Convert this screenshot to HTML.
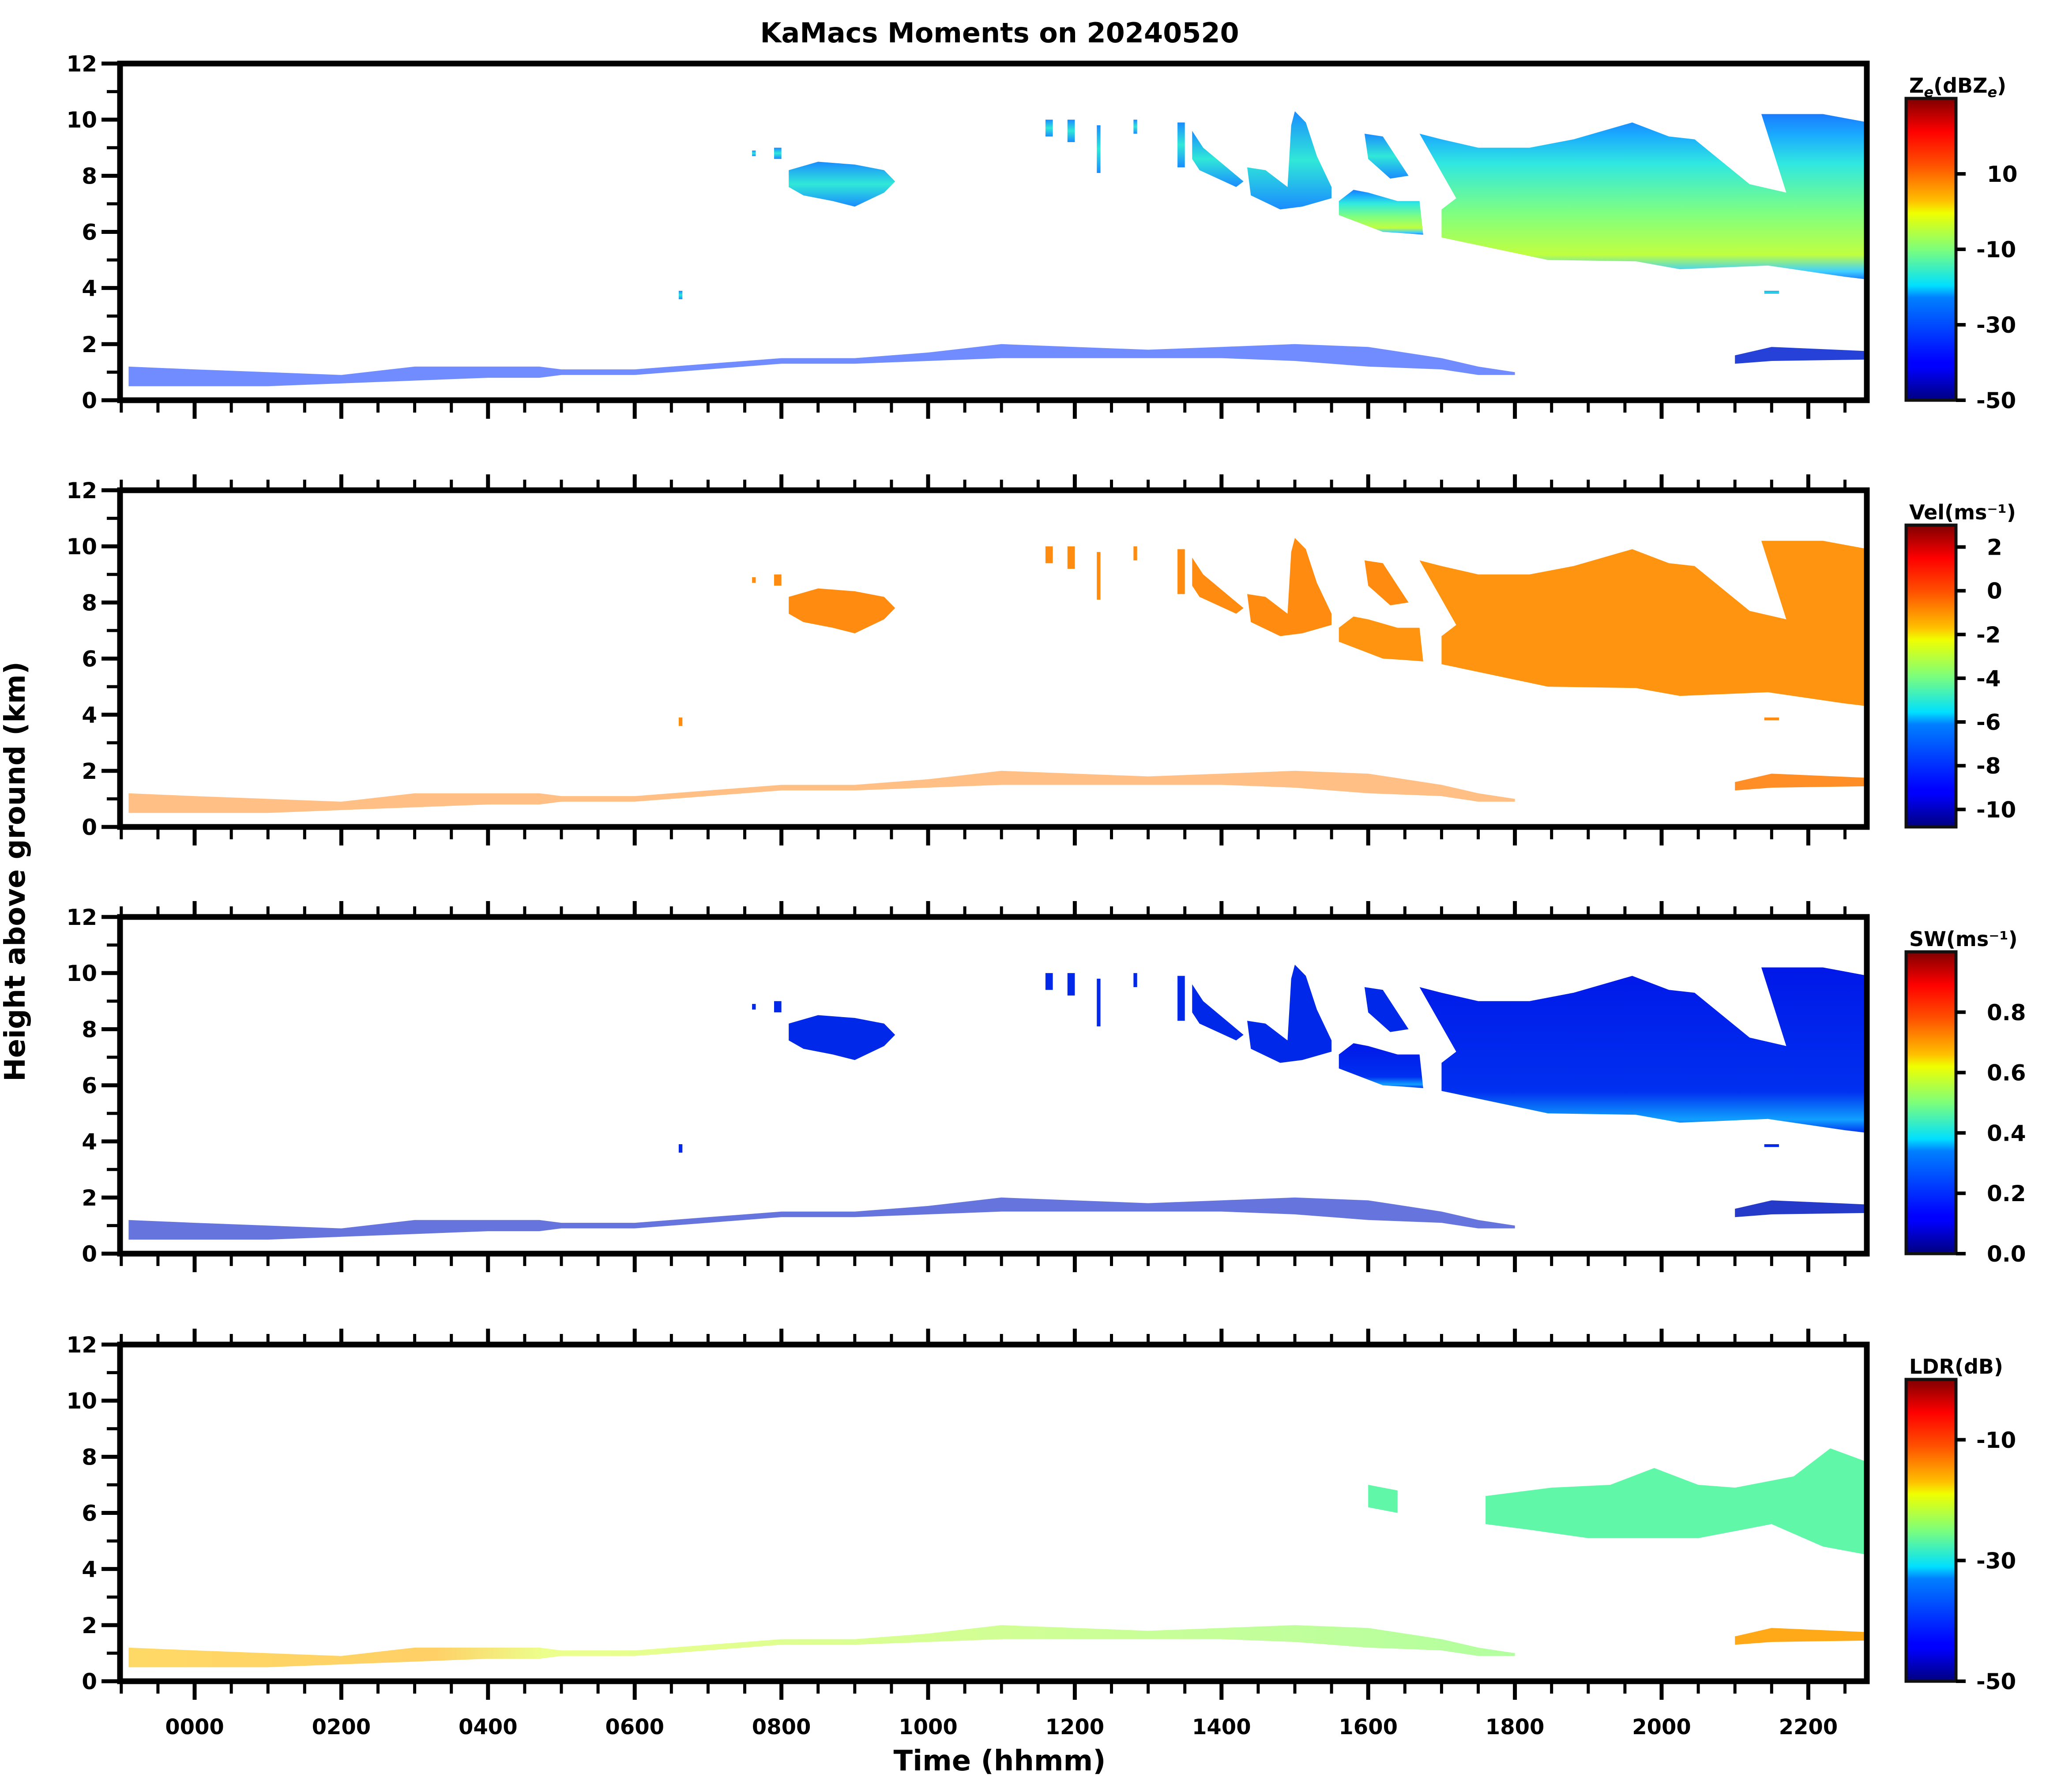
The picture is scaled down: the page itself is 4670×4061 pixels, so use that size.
<!DOCTYPE html>
<html><head><meta charset="utf-8"><style>
html,body{margin:0;padding:0;background:#fff}
svg text{font-family:"DejaVu Sans","Liberation Sans",sans-serif;font-weight:bold}
</style></head><body>
<svg id="fig" xmlns="http://www.w3.org/2000/svg" width="4670" height="4056" viewBox="0 0 4670 4056">
<defs>
<linearGradient id="jet" x1="0" y1="1" x2="0" y2="0">
<stop offset="0" stop-color="#00007f"/><stop offset="0.11" stop-color="#0000ff"/><stop offset="0.125" stop-color="#0000ff"/>
<stop offset="0.34" stop-color="#0080ff"/><stop offset="0.38" stop-color="#00e0ff"/><stop offset="0.5" stop-color="#7dff7a"/>
<stop offset="0.62" stop-color="#f0ff00"/><stop offset="0.66" stop-color="#ffc000"/><stop offset="0.78" stop-color="#ff5000"/>
<stop offset="0.89" stop-color="#ff0000"/><stop offset="1" stop-color="#7f0000"/></linearGradient>
<linearGradient id="zeMain" x1="0" y1="0" x2="0" y2="1">
<stop offset="0" stop-color="#1a7cff"/><stop offset="0.12" stop-color="#1aa8ff"/><stop offset="0.3" stop-color="#30e8e0"/><stop offset="0.6" stop-color="#80ff80"/>
<stop offset="0.85" stop-color="#c0ff40"/><stop offset="0.95" stop-color="#40d0ff"/><stop offset="1" stop-color="#1a7cff"/></linearGradient>
<linearGradient id="zeSmall" x1="0" y1="0" x2="0" y2="1">
<stop offset="0" stop-color="#1a8cff"/><stop offset="0.5" stop-color="#30e8d8"/><stop offset="1" stop-color="#1a8cff"/></linearGradient>
<linearGradient id="swMain" x1="0" y1="0" x2="0" y2="1">
<stop offset="0" stop-color="#0018e8"/><stop offset="0.75" stop-color="#0030f0"/><stop offset="0.92" stop-color="#10a0ff"/><stop offset="1" stop-color="#0030f0"/></linearGradient>
<linearGradient id="ldrLow" x1="0" y1="0" x2="1" y2="0">
<stop offset="0" stop-color="#ffc000"/><stop offset="0.22" stop-color="#ffb000"/><stop offset="0.3" stop-color="#e0ff40"/><stop offset="1" stop-color="#80ff60"/></linearGradient>
</defs>
<g id="root"></g>
</svg>
<script>
// ---- data ----
const hourTicks = [0,2,4,6,8,10,12,14,16,18,20,22];
const hourLabels = ["0000","0200","0400","0600","0800","1000","1200","1400","1600","1800","2000","2200"];
const heightTicks = [0,2,4,6,8,10,12];
const cloudA = [[8.1,8.2],[8.5,8.5],[9.0,8.4],[9.4,8.2],[9.55,7.8],[9.4,7.4],[9.0,6.9],[8.7,7.1],[8.3,7.3],[8.1,7.6]];
const cloudS = [[13.6,9.6],[13.75,9.0],[14.3,7.8],[14.2,7.6],[13.7,8.2],[13.6,8.6]];
const cloudB = [[14.35,8.3],[14.6,8.2],[14.9,7.6],[14.95,9.8],[15.0,10.3],[15.15,9.9],[15.3,8.7],[15.5,7.6],[15.5,7.2],[15.1,6.9],[14.8,6.8],[14.4,7.3]];
const cloudC = [[15.6,7.1],[15.8,7.5],[16.0,7.4],[16.4,7.1],[16.7,7.1],[16.75,5.9],[16.5,5.95],[16.2,6.0],[15.9,6.3],[15.6,6.6]];
const cloudE = [[15.95,9.5],[16.2,9.4],[16.55,8.0],[16.3,7.9],[16.0,8.6]];
const cloudD = [[16.7,9.5],[17.0,9.3],[17.5,9.0],[18.2,9.0],[18.8,9.3],[19.6,9.9],[20.1,9.4],[20.45,9.3],[21.2,7.7],[21.7,7.4],[21.36,10.2],[22.2,10.2],[22.82,9.9],[22.82,4.3],[22.5,4.4],[21.45,4.8],[20.25,4.67],[19.65,4.95],[18.45,5.0],[17.0,5.8],[17.0,6.8],[17.2,7.2]];
const bitsT0 = [7.6,7.9,11.6,11.9,12.3,12.8,13.4,6.6,21.4];
const bitsT1 = [7.65,8.0,11.7,12.0,12.35,12.85,13.5,6.65,21.6];
const bitsHb = [8.7,8.6,9.4,9.2,8.1,9.5,8.3,3.6,3.8];
const bitsHt = [8.9,9.0,10.0,10.0,9.8,10.0,9.9,3.9,3.9];
const lowT = [-0.9,0,1,2,3,4,4.7,5,6,7,8,9,10,11,12,13,14,15,16,17,17.5,18];
const lowTop = [1.2,1.1,1.0,0.9,1.2,1.2,1.2,1.1,1.1,1.3,1.5,1.5,1.7,2.0,1.9,1.8,1.9,2.0,1.9,1.5,1.2,1.0];
const lowBot = [0.5,0.5,0.5,0.6,0.7,0.8,0.8,0.9,0.9,1.1,1.3,1.3,1.4,1.5,1.5,1.5,1.5,1.4,1.2,1.1,0.9,0.9];
const low2T = [21.0,21.5,22.9];
const low2Top = [1.6,1.9,1.75];
const low2Bot = [1.3,1.4,1.45];
const ldrA = [[16.0,7.0],[16.4,6.8],[16.4,6.0],[16.0,6.2]];
const ldrB = [[17.6,6.6],[18.5,6.9],[19.3,7.0],[19.9,7.6],[20.5,7.0],[21.0,6.9],[21.8,7.3],[22.3,8.3],[22.9,7.8],[22.9,4.5],[22.2,4.8],[21.5,5.6],[20.5,5.1],[19.8,5.1],[19.0,5.1],[18.2,5.4],[17.6,5.6]];
const cbTitles = ["Ze","Vel(ms\u207b\u00b9)","SW(ms\u207b\u00b9)","LDR(dB)"];
const cbMin = [-50,-10.8,0,-50];
const cbMax = [30,3,1.0,0];
const cbTicks = [[10,-10,-30,-50],[2,0,-2,-4,-6,-8,-10],[0.8,0.6,0.4,0.2,0.0],[-10,-30,-50]];
const cbLabels = [["10","-10","-30","-50"],["2","0","-2","-4","-6","-8","-10"],["0.8","0.6","0.4","0.2","0.0"],["-10","-30","-50"]];

// ---- layout ----
const NS="http://www.w3.org/2000/svg";
const root=document.getElementById('root');
const panelTop=[144,1111,2078,3047], PH=763, XL=272, XR=4230;
const T0=-1.02, T1=22.82;
const X=t=>441+166.2*Math.min(t,T1);
const Yp=(h,p)=>panelTop[p]+PH*(1-h/12);
function mk(tag,attrs,parent){const e=document.createElementNS(NS,tag);for(const k in attrs)e.setAttribute(k,attrs[k]);(parent||root).appendChild(e);return e;}
function polyPts(arr,p){return arr.map(d=>X(d[0]).toFixed(1)+','+Yp(d[1],p).toFixed(1)).join(' ');}
function bandPts(ts,tops,bots,p){const a=ts.map((t,i)=>[t,tops[i]]);const b=ts.map((t,i)=>[t,bots[i]]).reverse();return polyPts(a.concat(b),p);}

const title=mk('text',{x:2265,y:96,'font-size':62,'text-anchor':'middle'});


title.textContent='KaMacs Moments on 20240520';

const cloudFills=[
 {main:'url(#zeMain)',small:'url(#zeSmall)',low:'#1040ff',low2:'#0020d0',lowOp:0.6},
 {main:'#ff9410',small:'#ff8c10',low:'#ff8a20',low2:'#ff7a00',lowOp:0.55},
 {main:'url(#swMain)',small:'#0028e8',low:'#0018c8',low2:'#0018c0',lowOp:0.6},
 null];

for(let p=0;p<4;p++){
  const g=mk('g',{});
  
  
  const cf=cloudFills[p];
  if(cf){
    const lb=mk('polygon',{points:bandPts(lowT,lowTop,lowBot,p),fill:cf.low,opacity:cf.lowOp},g);
    
    
    const lb2=mk('polygon',{points:bandPts(low2T,low2Top,low2Bot,p),fill:cf.low2,opacity:0.85},g);
    
    
    [[cloudA,'cloud-a',cf.small],[cloudS,'cloud-streak',cf.small],[cloudB,'cloud-b',cf.small],[cloudC,'cloud-c',cf.main],[cloudE,'cloud-e',cf.small],[cloudD,'cloud-main',cf.main]].forEach(c=>{
      const e=mk('polygon',{points:polyPts(c[0],p),fill:c[2]},g);
      
      
    });
    for(let i=0;i<bitsT0.length;i++){
      const r=mk('rect',{x:X(bitsT0[i]),y:Yp(bitsHt[i],p),width:X(bitsT1[i])-X(bitsT0[i]),height:Yp(bitsHb[i],p)-Yp(bitsHt[i],p),fill:cf.small},g);
      
      
    }
  } else {
    const lb=mk('polygon',{points:bandPts(lowT,lowTop,lowBot,p),fill:'url(#ldrLow)',opacity:0.6},g);
    
    
    const lb2=mk('polygon',{points:bandPts(low2T,low2Top,low2Bot,p),fill:'#ffa000',opacity:0.9},g);
    
    
    [[ldrA,'ldr-cloud-a'],[ldrB,'ldr-cloud-main']].forEach(c=>{
      const e=mk('polygon',{points:polyPts(c[0],p),fill:'#60f8a8'},g);
      
      
    });
  }
  const top=panelTop[p], bot=top+PH;
  for(let h=0;h<=12;h++){
    const major=h%2===0;
    const l=mk('line',{x1:XL-(major?42:30),x2:XL,y1:Yp(h,p),y2:Yp(h,p),stroke:'#000','stroke-width':major?9:7},g);
    
    
  }
  heightTicks.forEach(h=>{
    const t=mk('text',{x:XL-52,y:Yp(h,p)+18,'font-size':50,'text-anchor':'end'},g);
    
    
    t.textContent=String(h);
  });
  for(let k=-2;k<=45;k++){
    const t=k/2; if(t<T0-0.01||t>T1) continue;
    const major=(k%4===0);
    const x=X(t);
    const l=mk('line',{x1:x,x2:x,y1:bot,y2:bot+(major?42:28),stroke:'#000','stroke-width':major?9:7},g);
    
    
    if(p>0){
      const l2=mk('line',{x1:x,x2:x,y1:top,y2:top-(major?36:24),stroke:'#000','stroke-width':major?9:7},g);
      
      
    }
  }
  const fr=mk('rect',{x:XL,y:top,width:XR-XL,height:PH,fill:'none',stroke:'#000','stroke-width':13},g);
  
  
  const cbT=top+79, cbB=bot, cx=4319, cw=113;
  const cb=mk('rect',{x:cx,y:cbT,width:cw,height:cbB-cbT,fill:'url(#jet)',stroke:'#111','stroke-width':7},g);
  
  
  const cy=v=>cbB-(v-cbMin[p])/(cbMax[p]-cbMin[p])*(cbB-cbT);
  cbTicks[p].forEach((v,i)=>{
    const l=mk('line',{x1:cx+cw,x2:cx+cw+22,y1:cy(v),y2:cy(v),stroke:'#000','stroke-width':8},g);
    
    
    const t=mk('text',{x:cx+cw+(cbLabels[p][i].startsWith('-')?46:70),y:cy(v)+18,'font-size':50},g);
    
    
    t.textContent=cbLabels[p][i];
  });
  const ct=mk('text',{x:4326,y:top+66,'font-size':46},g);
  
  
  if(p===0){
    ct.innerHTML='Z<tspan font-size="32" font-style="italic" dy="10">e</tspan><tspan dy="-10">(dBZ</tspan><tspan font-size="32" font-style="italic" dy="10">e</tspan><tspan dy="-10">)</tspan>';
  } else ct.textContent=cbTitles[p];
}
hourTicks.forEach((h,i)=>{
  const t=mk('text',{x:X(h),y:3930,'font-size':48,'text-anchor':'middle'});
  
  
  t.textContent=hourLabels[i];
});
const xl=mk('text',{x:2265,y:4012,'font-size':64,'text-anchor':'middle'});


xl.textContent='Time (hhmm)';
const yl=mk('text',{x:0,y:0,'font-size':64,'text-anchor':'middle',transform:'translate(56,1975) rotate(-90)'});


yl.textContent='Height above ground (km)';
</script>
</body></html>
